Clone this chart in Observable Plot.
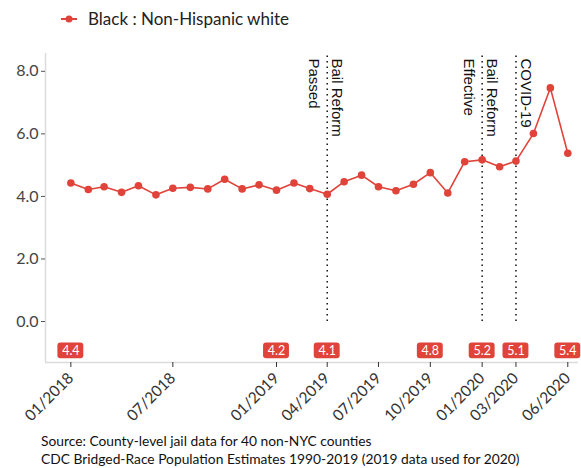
<!DOCTYPE html>
<html>
<head>
<meta charset="utf-8">
<script src="https://cdn.jsdelivr.net/npm/d3@7"></script>
<script src="https://cdn.jsdelivr.net/npm/@observablehq/plot@0.6"></script>
<style>
  html, body { margin: 0; padding: 0; background: #fff; }
  body { width: 581px; height: 468px; overflow: hidden; font-family: Lato, "Open Sans", sans-serif; }
  #legend { height: 40px; position: relative; }
  #legend svg { position: absolute; left: 60px; top: 12px; }
  #legend span { position: absolute; left: 88px; top: 8px; font-size: 17px; color: #222; }
  #caption { font-size: 13.8px; color: #111; line-height: 18px; padding-left: 41px; margin-top: 2px; }
</style>
</head>
<body>
<div id="legend">
  <svg width="20" height="14"><line x1="1" y1="7" x2="17" y2="7" stroke="#e0433a" stroke-width="2"/><circle cx="9" cy="7" r="3.5" fill="#e0433a"/></svg>
  <span>Black : Non-Hispanic white</span>
</div>
<div id="chart"></div>
<div id="caption">Source: County-level jail data for 40 non-NYC counties<br>CDC Bridged-Race Population Estimates 1990-2019 (2019 data used for 2020)</div>
<script>
// Monthly ratio, Jan 2018 – Jun 2020
const months = [
  "2018-01","2018-02","2018-03","2018-04","2018-05","2018-06",
  "2018-07","2018-08","2018-09","2018-10","2018-11","2018-12",
  "2019-01","2019-02","2019-03","2019-04","2019-05","2019-06",
  "2019-07","2019-08","2019-09","2019-10","2019-11","2019-12",
  "2020-01","2020-02","2020-03","2020-04","2020-05","2020-06"
];
const ratios = [
  4.43, 4.22, 4.31, 4.13, 4.34, 4.05,
  4.26, 4.29, 4.24, 4.55, 4.24, 4.37,
  4.20, 4.43, 4.25, 4.07, 4.47, 4.68,
  4.31, 4.18, 4.39, 4.76, 4.11, 5.11,
  5.17, 4.95, 5.13, 6.01, 7.47, 5.38
];
const labelMonths = ["2018-01","2019-01","2019-04","2019-10","2020-01","2020-03","2020-06"];
const tickMonths = ["2018-01","2018-07","2019-01","2019-04","2019-07","2019-10","2020-01","2020-03","2020-06"];
const eventMonths = ["2019-04","2020-01","2020-03"];
const eventLine1 = ["Bail Reform","Bail Reform","COVID-19"];
const eventLine2 = ["Passed","Effective",""];
const yTicks = [0, 2, 4, 6, 8];

const parse = d3.utcParse("%Y-%m");
const fmtTick = d3.utcFormat("%m/%Y");
const data = months.map((m, i) => ({date: parse(m), value: ratios[i]}));
const labels = data.filter(d => labelMonths.includes(d3.utcFormat("%Y-%m")(d.date)));
const events = eventMonths.map((m, i) => ({date: parse(m), line1: eventLine1[i], line2: eventLine2[i]}));

const red = "#e0433a";
const xDomain = [new Date(Date.UTC(2017, 10, 17)), new Date(Date.UTC(2020, 5, 20))];
const yDomain = [-1.31, 8.57];
const labelY = -0.94;
const annoFont = "'Liberation Sans', Arial, sans-serif";

const chart = Plot.plot({
  width: 581,
  height: 390,
  marginTop: 13,
  marginBottom: 68,
  marginLeft: 45,
  marginRight: 3,
  style: {fontFamily: "Lato, 'Open Sans', sans-serif", background: "#fff"},
  x: {type: "utc", domain: xDomain, label: null},
  y: {domain: yDomain, label: null},
  marks: [
    Plot.ruleX([xDomain[0]], {stroke: "#dcdcdc", strokeWidth: 1.5}),
    Plot.ruleY([yDomain[0]], {stroke: "#dcdcdc", strokeWidth: 1.5}),
    Plot.axisY({ticks: yTicks, tickFormat: d3.format(".1f"), tickSize: 4, tickPadding: 3, fontSize: 16, color: "#444", stroke: "#555", label: null}),
    Plot.axisX({ticks: tickMonths.map(parse), tickFormat: fmtTick, tickSize: 5, tickPadding: 8, tickRotate: -45, fontSize: 15.5, color: "#333", stroke: "#333", textAnchor: "end", label: null}),
    Plot.ruleX(events, {x: "date", y1: 0, y2: 8.5, stroke: "#111", strokeWidth: 1.5, strokeDasharray: "1.5,4"}),
    Plot.text(events, {x: "date", y: 8.57, text: "line1", rotate: 90, textAnchor: "start", lineAnchor: "middle", dx: 10, dy: 5, fontSize: 15, fill: "#111", fontFamily: annoFont}),
    Plot.text(events, {x: "date", y: 8.57, text: "line2", rotate: 90, textAnchor: "start", lineAnchor: "middle", dx: -13, dy: 5, fontSize: 15, fill: "#111", fontFamily: annoFont}),
    Plot.line(data, {x: "date", y: "value", stroke: red, strokeWidth: 1.6}),
    Plot.dot(data, {x: "date", y: "value", fill: red, r: 3.8}),
    Plot.rect(labels, {
      x1: d => d3.utcDay.offset(d.date, -23),
      x2: d => d3.utcDay.offset(d.date, 23),
      y1: labelY - 0.25, y2: labelY + 0.25,
      fill: red, rx: 3
    }),
    Plot.text(labels, {x: "date", y: labelY, text: d => d.value.toFixed(1), fill: "#fff", fontSize: 12.5})
  ]
});
document.getElementById("chart").appendChild(chart);
</script>
</body>
</html>
